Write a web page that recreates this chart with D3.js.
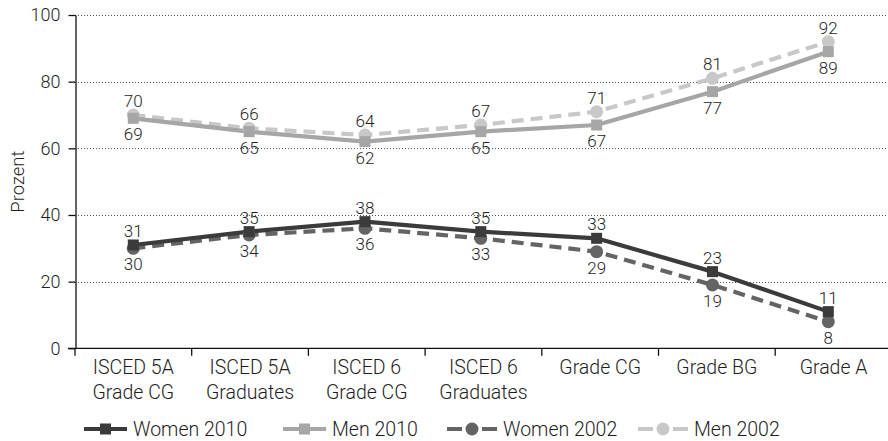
<!DOCTYPE html>
<html>
<head>
<meta charset="utf-8">
<script src="https://cdn.jsdelivr.net/npm/d3@7/dist/d3.min.js"></script>
<style>
  html, body { margin: 0; padding: 0; background: #fff; }
  svg { display: block; font-family: Roboto, "Liberation Sans", Arial, sans-serif; font-weight: 300; }
</style>
</head>
<body>
<svg id="chart" width="888" height="441"></svg>
<script>
// Category labels (two lines each)
const categories = [
  ["ISCED 5A", "Grade CG"],
  ["ISCED 5A", "Graduates"],
  ["ISCED 6", "Grade CG"],
  ["ISCED 6", "Graduates"],
  ["Grade CG"],
  ["Grade BG"],
  ["Grade A"]
];
const women2010 = [31, 35, 38, 35, 33, 23, 11];
const men2010   = [69, 65, 62, 65, 67, 77, 89];
const women2002 = [30, 34, 36, 33, 29, 19, 8];
const men2002   = [70, 66, 64, 67, 71, 81, 92];
const yTicks = [0, 20, 40, 60, 80, 100];
const yLabel = "Prozent";

const series = [
  { name: "Women 2010", values: women2010, color: "#3b3b3b", dash: null, marker: "square", labelPos: "above" },
  { name: "Men 2010",   values: men2010,   color: "#a6a6a6", dash: null, marker: "square", labelPos: "below" },
  { name: "Women 2002", values: women2002, color: "#646464", dash: "12,7", marker: "circle", labelPos: "below" },
  { name: "Men 2002",   values: men2002,   color: "#c8c8c8", dash: "12,7", marker: "circle", labelPos: "above" }
];

const svg = d3.select("#chart");
const textColor = "#1e1e1e";
const fontFamily = "Roboto, 'Liberation Sans', Arial, sans-serif";
const idx = d3.range(categories.length);

// Scales: the band scale drives the category axis, the point scale places the marks
const xBand = d3.scaleBand().domain(idx).range([75, 75 + 7 * 116.7]).padding(0);
const xPoint = d3.scalePoint().domain(idx).range([133.3, 828.3]);
const y = d3.scaleLinear().domain([0, 100]).range([348.3, 15]);

// Dotted horizontal gridlines
svg.append("g")
  .selectAll("line")
  .data(yTicks.filter(d => d > 0))
  .join("line")
  .attr("x1", 75).attr("x2", 888)
  .attr("y1", d => Math.round(y(d)) + 0.5).attr("y2", d => Math.round(y(d)) + 0.5)
  .attr("stroke", "#555").attr("stroke-width", 1).attr("stroke-dasharray", "1,2");

// Y axis
const yAxis = svg.append("g")
  .attr("transform", "translate(75.5,0)")
  .call(d3.axisLeft(y).tickValues(yTicks).tickSize(7).tickPadding(8).tickSizeOuter(0));
yAxis.select(".domain").attr("stroke", "#111").attr("stroke-width", 1.3);
yAxis.selectAll(".tick line").attr("stroke", "#111").attr("stroke-width", 1.3);
yAxis.selectAll(".tick text")
  .attr("font-size", 18).attr("fill", textColor)
  .attr("font-family", fontFamily).attr("font-weight", 300);

// Y axis title
svg.append("text")
  .attr("transform", `translate(24,${(y(0) + y(100)) / 2}) rotate(-90)`)
  .attr("text-anchor", "middle")
  .attr("font-size", 18.5).attr("fill", textColor)
  .text(yLabel);

// X axis baseline and category boundary ticks
const xAxis = svg.append("g");
xAxis.append("line")
  .attr("x1", 68).attr("x2", 888)
  .attr("y1", y(0)).attr("y2", y(0))
  .attr("stroke", "#111").attr("stroke-width", 1.3);
xAxis.selectAll("line.tick")
  .data(idx)
  .join("line")
  .attr("class", "tick")
  .attr("x1", d => xBand(d)).attr("x2", d => xBand(d))
  .attr("y1", y(0)).attr("y2", y(0) + 7.5)
  .attr("stroke", "#111").attr("stroke-width", 1.3);

// Category labels
const catText = xAxis.selectAll("text.cat")
  .data(categories)
  .join("text")
  .attr("class", "cat")
  .attr("text-anchor", "middle")
  .attr("font-size", 19.5).attr("fill", textColor)
  .attr("x", (d, i) => xBand(i) + xBand.bandwidth() / 2)
  .attr("y", 374);
catText.selectAll("tspan")
  .data(d => d)
  .join("tspan")
  .attr("x", function () { return d3.select(this.parentNode).attr("x"); })
  .attr("dy", (d, i) => i === 0 ? 0 : 25.3)
  .text(d => d);

// Lines
const line = d3.line().x((d, i) => xPoint(i)).y(d => y(d));
const plot = svg.append("g");

// Draw back-to-front so the dark series sit on top
const drawOrder = [series[3], series[1], series[2], series[0]];
drawOrder.forEach(s => {
  plot.append("path")
    .datum(s.values)
    .attr("d", line)
    .attr("fill", "none")
    .attr("stroke", s.color)
    .attr("stroke-width", 4.2)
    .attr("stroke-dasharray", s.dash)
    .attr("stroke-linejoin", "round");
});
drawOrder.forEach(s => {
  const g = plot.append("g");
  if (s.marker === "square") {
    g.selectAll("rect").data(s.values).join("rect")
      .attr("x", (d, i) => xPoint(i) - 5.5)
      .attr("y", d => y(d) - 5.5)
      .attr("width", 11).attr("height", 11)
      .attr("fill", s.color);
  } else {
    g.selectAll("circle").data(s.values).join("circle")
      .attr("cx", (d, i) => xPoint(i))
      .attr("cy", d => y(d))
      .attr("r", 6.5)
      .attr("fill", s.color);
  }
});

// Value labels
series.forEach(s => {
  plot.append("g").selectAll("text").data(s.values).join("text")
    .attr("x", (d, i) => xPoint(i))
    .attr("y", d => s.labelPos === "above" ? y(d) - 8 : y(d) + 22)
    .attr("text-anchor", "middle")
    .attr("font-size", 17).attr("fill", textColor)
    .text(d => d);
});

// Legend
const legendX = [84, 283, 447, 638];
const legend = svg.append("g").attr("transform", "translate(0,429)");
series.forEach((s, i) => {
  const g = legend.append("g").attr("transform", `translate(${legendX[i]},0)`);
  const len = s.dash ? 50 : 43;
  g.append("line")
    .attr("x1", 0).attr("x2", len).attr("y1", 0).attr("y2", 0)
    .attr("stroke", s.color).attr("stroke-width", 4.2)
    .attr("stroke-dasharray", s.dash ? "15,20" : null);
  if (s.marker === "square") {
    g.append("rect").attr("x", len / 2 - 5.5).attr("y", -5.5)
      .attr("width", 11).attr("height", 11).attr("fill", s.color);
  } else {
    g.append("circle").attr("cx", len / 2).attr("cy", 0).attr("r", 6.5).attr("fill", s.color);
  }
  g.append("text")
    .attr("x", len + 6).attr("y", 7)
    .attr("font-size", 19.5).attr("fill", textColor)
    .text(s.name);
});
</script>
</body>
</html>
